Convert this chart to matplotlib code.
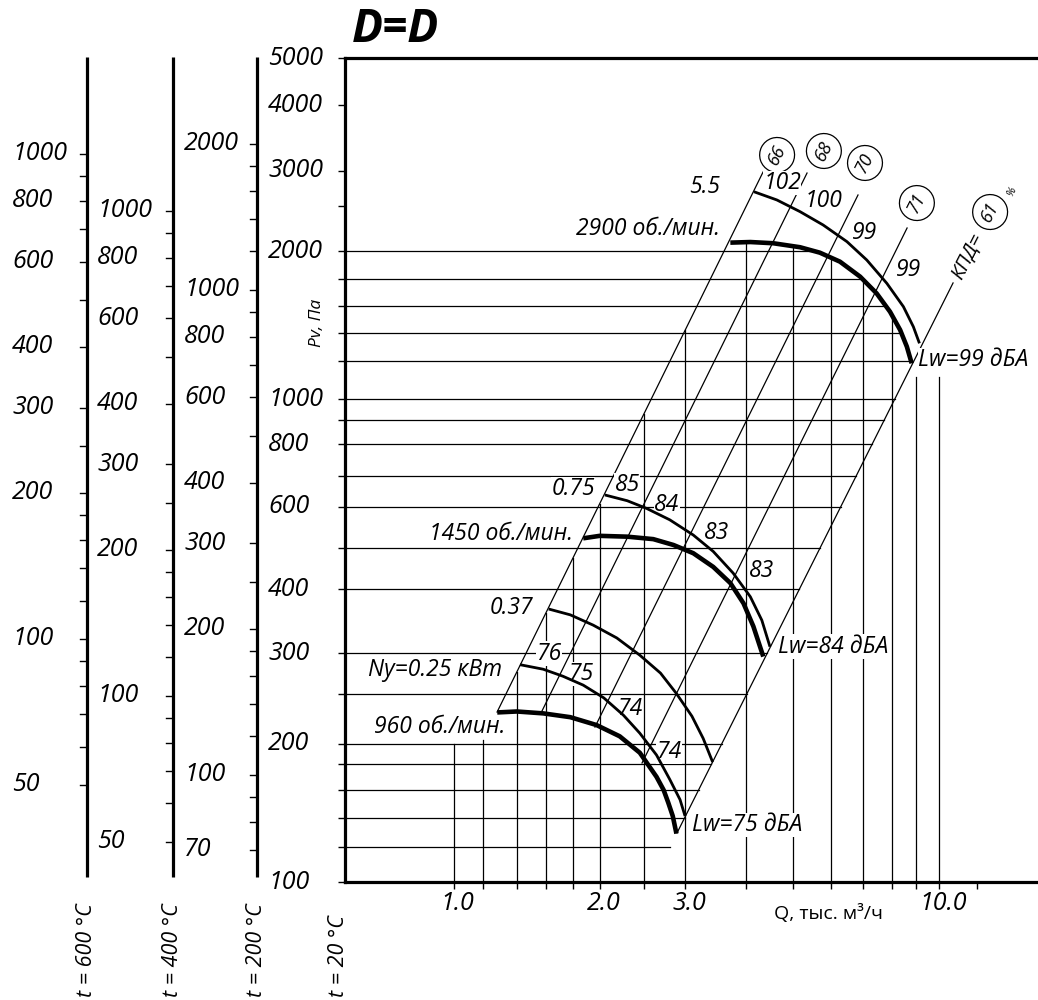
import numpy as np
import matplotlib
matplotlib.use('Agg')
import matplotlib.pyplot as plt
import matplotlib.transforms as mtransforms
from matplotlib import font_manager as fm

# fan speed curves: Q (thousand m3/h), Pv (Pa)
q_2900 = [3.72, 4.09, 4.56, 5.18, 5.69, 6.26, 6.89, 7.45, 7.94, 8.33, 8.60, 8.80]
p_2900 = [2084, 2090, 2078, 2039, 1987, 1904, 1773, 1638, 1501, 1377, 1272, 1175]
q_1450 = [1.85, 2.00, 2.28, 2.58, 2.84, 3.12, 3.43, 3.72, 3.96, 4.15, 4.35]
p_1450 = [512, 518, 516, 510, 496, 477, 447, 414, 376, 337, 292]
q_960 = [1.23, 1.35, 1.53, 1.74, 1.97, 2.20, 2.42, 2.62, 2.71, 2.77, 2.83, 2.88]
p_960 = [224, 225, 223, 219, 211, 200, 185, 165, 155, 146, 137, 126]

# motor power curves
q_n55 = [4.16, 4.64, 5.18, 5.78, 6.47, 7.11, 7.82, 8.46, 8.87, 9.13]
p_n55 = [2654, 2552, 2414, 2266, 2094, 1919, 1718, 1538, 1398, 1292]
q_n075 = [2.05, 2.28, 2.50, 2.79, 3.12, 3.43, 3.77, 4.09, 4.32, 4.49]
p_n075 = [629, 612, 590, 559, 520, 481, 434, 388, 347, 306]
q_n037 = [1.57, 1.74, 1.94, 2.17, 2.42, 2.67, 2.88, 3.10, 3.27, 3.42]
p_n037 = [366, 356, 339, 319, 294, 270, 245, 220, 198, 177]
q_n025 = [1.37, 1.53, 1.68, 1.85, 2.04, 2.24, 2.42, 2.62, 2.79, 2.93, 3.00]
p_n025 = [281, 275, 266, 255, 240, 221, 203, 183, 163, 148, 137]

# efficiency (КПД) lines: end points and circle labels
eff_labels = ['66', '68', '70', '71', '61']
eff_q_lo = [1.229, 1.521, 1.956, 2.446, 2.888]
eff_p_lo = [224.4, 225.5, 209, 176.2, 126.4]
eff_q_hi = [4.345, 5.354, 6.82, 8.61, 10.71]
eff_p_hi = [2914, 2900, 2613, 2234, 1721]
eff_label_q = [4.645, 5.80, 7.05, 9.02, 12.77]
eff_label_p = [3160, 3220, 3042, 2515, 2410]

# curve annotations: text, Q, Pv, alignment
curve_texts = [
    ('5.5', 3.54, 2714, 'right'), ('2900 об./мин.', 3.54, 2223, 'right'),
    ('102', 4.76, 2766, 'center'), ('100', 5.78, 2540, 'center'),
    ('99', 7.02, 2182, 'center'), ('99', 8.65, 1830, 'center'),
    ('Lw=99 дБА', 9.07, 1194, 'left'),
    ('0.75', 1.956, 647, 'right'), ('1450 об./мин.', 1.763, 522, 'right'),
    ('85', 2.28, 660, 'center'), ('84', 2.75, 600, 'center'),
    ('83', 3.49, 525, 'center'), ('83', 4.32, 438, 'center'),
    ('Lw=84 дБА', 4.67, 306, 'left'),
    ('0.37', 1.458, 368, 'right'), ('Ny=0.25 кВт', 1.258, 274, 'right'),
    ('960 об./мин.', 1.276, 209, 'right'),
    ('76', 1.573, 296, 'center'), ('75', 1.831, 269, 'center'),
    ('74', 2.31, 228, 'center'), ('74', 2.78, 186, 'center'),
    ('Lw=75 дБА', 3.10, 131.4, 'left'),
]

# grid / ticks
q_grid = [1.0, 1.15, 1.35, 1.55, 1.76, 2.0, 2.47, 3.0, 4.0, 5.0, 6.0, 7.0, 8.0, 9.0, 10.0]
q_ticks = q_grid + [12.0]
q_label_vals = [1.0, 2.0, 3.0, 10.0]
q_label_text = ['1.0', '2.0', '3.0', '10.0']
p_grid = [118, 136, 155, 175, 193, 245, 297, 402, 490, 595, 689, 801, 898,
          990, 1190, 1355, 1540, 1750, 2000]
p_ticks = [100] + p_grid + [2480, 2930, 4000, 5000]
p_label_vals = [100, 193, 297, 402, 595, 801, 990, 2000, 2930, 4000, 5000]
p_label_text = ['100', '200', '300', '400', '600', '800', '1000', '2000', '3000', '4000', '5000']
grid_floor = 193        # vertical lines left of the 960 curve stop here
grid_top_right = 1100   # vertical lines right of the 2900 curve stop here

# temperature scales (Pv at t relative to Pv at 20 °C)
t_names = ['t = 600 °C', 't = 400 °C', 't = 200 °C']
t_ratio = [0.315, 0.412, 0.600]
t_ticks = [
    [50, 60, 70, 80, 90, 100, 120, 140, 160, 180, 200, 250, 300, 400, 500, 600, 700, 800, 900, 1000],
    [50, 60, 70, 80, 90, 100, 120, 140, 160, 180, 200, 250, 300, 400, 500, 600, 700, 800, 900, 1000],
    [70, 80, 90, 100, 120, 140, 160, 180, 200, 250, 300, 400, 500, 600, 700, 800, 900, 1000,
     1200, 1400, 1600, 1800, 2000],
]
t_labels = [
    [50, 100, 200, 300, 400, 600, 800, 1000],
    [50, 100, 200, 300, 400, 600, 800, 1000],
    [70, 100, 200, 300, 400, 600, 800, 1000, 2000],
]

# fonts
italic_fams = {f.name for f in fm.fontManager.ttflist if f.style in ('italic', 'oblique')}
fam = next((n for n in ['Open Sans', 'Noto Sans', 'Liberation Sans', 'DejaVu Sans'] if n in italic_fams),
           'DejaVu Sans')
plt.rcParams['font.family'] = [fam, 'DejaVu Sans']
plt.rcParams['font.style'] = 'italic'

W, H = 1038, 1000
X0, Y0, AW, AH = 345, 882.3, 693, 824.0   # axes box in pixels (top-left origin)


def axx(px):
    return (px - X0) / AW


def axy(py):
    return (Y0 - py) / AH


fig = plt.figure(figsize=(W / 100, H / 100), dpi=100)
ax = fig.add_axes([X0 / W, 1 - Y0 / H, AW / W, AH / H])
ax.set_xscale('log')
ax.set_yscale('log')
ax.set_xlim(0.597, 16.03)
ax.set_ylim(100, 5000)
ax.xaxis.set_minor_locator(matplotlib.ticker.NullLocator())
ax.yaxis.set_minor_locator(matplotlib.ticker.NullLocator())
ax.set_xticks(q_ticks)
ax.set_yticks(p_ticks)
ax.set_xticklabels([])
ax.set_yticklabels([])
ax.tick_params(direction='out', length=5, width=1.0)
for s in ['left', 'top', 'bottom']:
    ax.spines[s].set_linewidth(2.3)
ax.spines['right'].set_visible(False)

lw_grid = 0.9
k = 'black'


# envelope used to clip the grid
def env_right(p):
    if p <= p_2900[-1]:
        a = np.log10(eff_q_lo[-1]); b = np.log10(eff_q_hi[-1])
        c = np.log10(eff_p_lo[-1]); d = np.log10(eff_p_hi[-1])
        return 10 ** (a + (np.log10(p) - c) * (b - a) / (d - c))
    i = int(np.argmax(p_2900))
    return np.interp(p, p_2900[i:][::-1], q_2900[i:][::-1])


def env_top(q):
    if q < q_2900[0]:
        a = np.log10(eff_q_lo[0]); b = np.log10(eff_q_hi[0])
        c = np.log10(eff_p_lo[0]); d = np.log10(eff_p_hi[0])
        return max(10 ** (c + (np.log10(q) - a) * (d - c) / (b - a)), grid_floor)
    if q <= q_2900[-1]:
        return np.interp(q, q_2900, p_2900)
    return grid_top_right


for p in p_grid:
    ax.plot([0.597, env_right(p)], [p, p], color=k, lw=lw_grid, zorder=2)
for q in q_grid:
    ax.plot([q, q], [100, env_top(q)], color=k, lw=lw_grid, zorder=2)

# efficiency lines
for i in range(len(eff_labels)):
    ax.plot([eff_q_lo[i], eff_q_hi[i]], [eff_p_lo[i], eff_p_hi[i]], color=k, lw=lw_grid, zorder=2)
    ax.text(eff_label_q[i], eff_label_p[i], eff_labels[i], fontsize=13, rotation=63,
            ha='center', va='center', rotation_mode='anchor',
            bbox=dict(boxstyle='circle,pad=0.42', fc='white', ec=k, lw=0.9))
ax.text(11.45, 1954, 'КПД=', fontsize=14.5, rotation=63, ha='center', va='center',
        rotation_mode='anchor', bbox=dict(fc='white', ec='none', pad=0.5))
ax.text(14.17, 2650, '%', fontsize=8, rotation=63, ha='center', va='center')

# curves
for qq, pp in [(q_n55, p_n55), (q_n075, p_n075), (q_n037, p_n037), (q_n025, p_n025)]:
    ax.plot(qq, pp, color=k, lw=2.0, solid_capstyle='butt', solid_joinstyle='round', zorder=4)
for qq, pp in [(q_2900, p_2900), (q_1450, p_1450), (q_960, p_960)]:
    ax.plot(qq, pp, color=k, lw=3.3, solid_capstyle='butt', solid_joinstyle='round', zorder=4)

for txt, q, p, ha in curve_texts:
    ax.text(q, p, txt, fontsize=16.5, ha=ha, va='center', zorder=3,
            bbox=dict(fc='white', ec='none', pad=0.2))

# axis labels and tick labels
ty = mtransforms.blended_transform_factory(ax.transAxes, ax.transData)
tx = mtransforms.blended_transform_factory(ax.transData, ax.transAxes)
tx_off = mtransforms.offset_copy(tx, fig=fig, x=4, y=0, units='dots')
for v, s in zip(p_label_vals, p_label_text):
    ax.text(axx(268), v, s, transform=ty, fontsize=18, ha='left', va='center')
for v, s in zip(q_label_vals, q_label_text):
    ax.text(v, axy(904), s, transform=tx_off, fontsize=18, ha='center', va='center')

ax.text(axx(317), axy(323), 'Pv, Па', transform=ax.transAxes, fontsize=12.5, rotation=90,
        ha='center', va='center')
ax.text(axx(828), axy(914), 'Q, тыс. м³/ч', transform=ax.transAxes, fontsize=14,
        style='normal', ha='center', va='center')
ax.text(axx(352), axy(29), 'D=D', transform=ax.transAxes, fontsize=33, fontweight='bold',
        ha='left', va='center')

# temperature scales on the left
tick_len = 7 / AW
scale_x = [86.7, 172.7, 256.7]
label_x = [12, 97, 184]
for i in range(3):
    x = axx(scale_x[i])
    ax.plot([x, x], [axy(877), axy(57)], transform=ax.transAxes, color=k, lw=2.3,
            clip_on=False, solid_capstyle='butt')
    for v in t_ticks[i]:
        ax.plot([x - tick_len, x], [v / t_ratio[i]] * 2, transform=ty, color=k, lw=1.0,
                clip_on=False)
    for v in t_labels[i]:
        ax.text(axx(label_x[i]), v / t_ratio[i], str(v), transform=ty, fontsize=18,
                ha='left', va='center')

for px, s in zip(scale_x + [338], t_names + ['t = 20 °C']):
    ax.text(axx(px), axy(997), s, transform=ax.transAxes, fontsize=15.5, rotation=90,
            ha='center', va='bottom')

fig.savefig('out.png', dpi=100)
